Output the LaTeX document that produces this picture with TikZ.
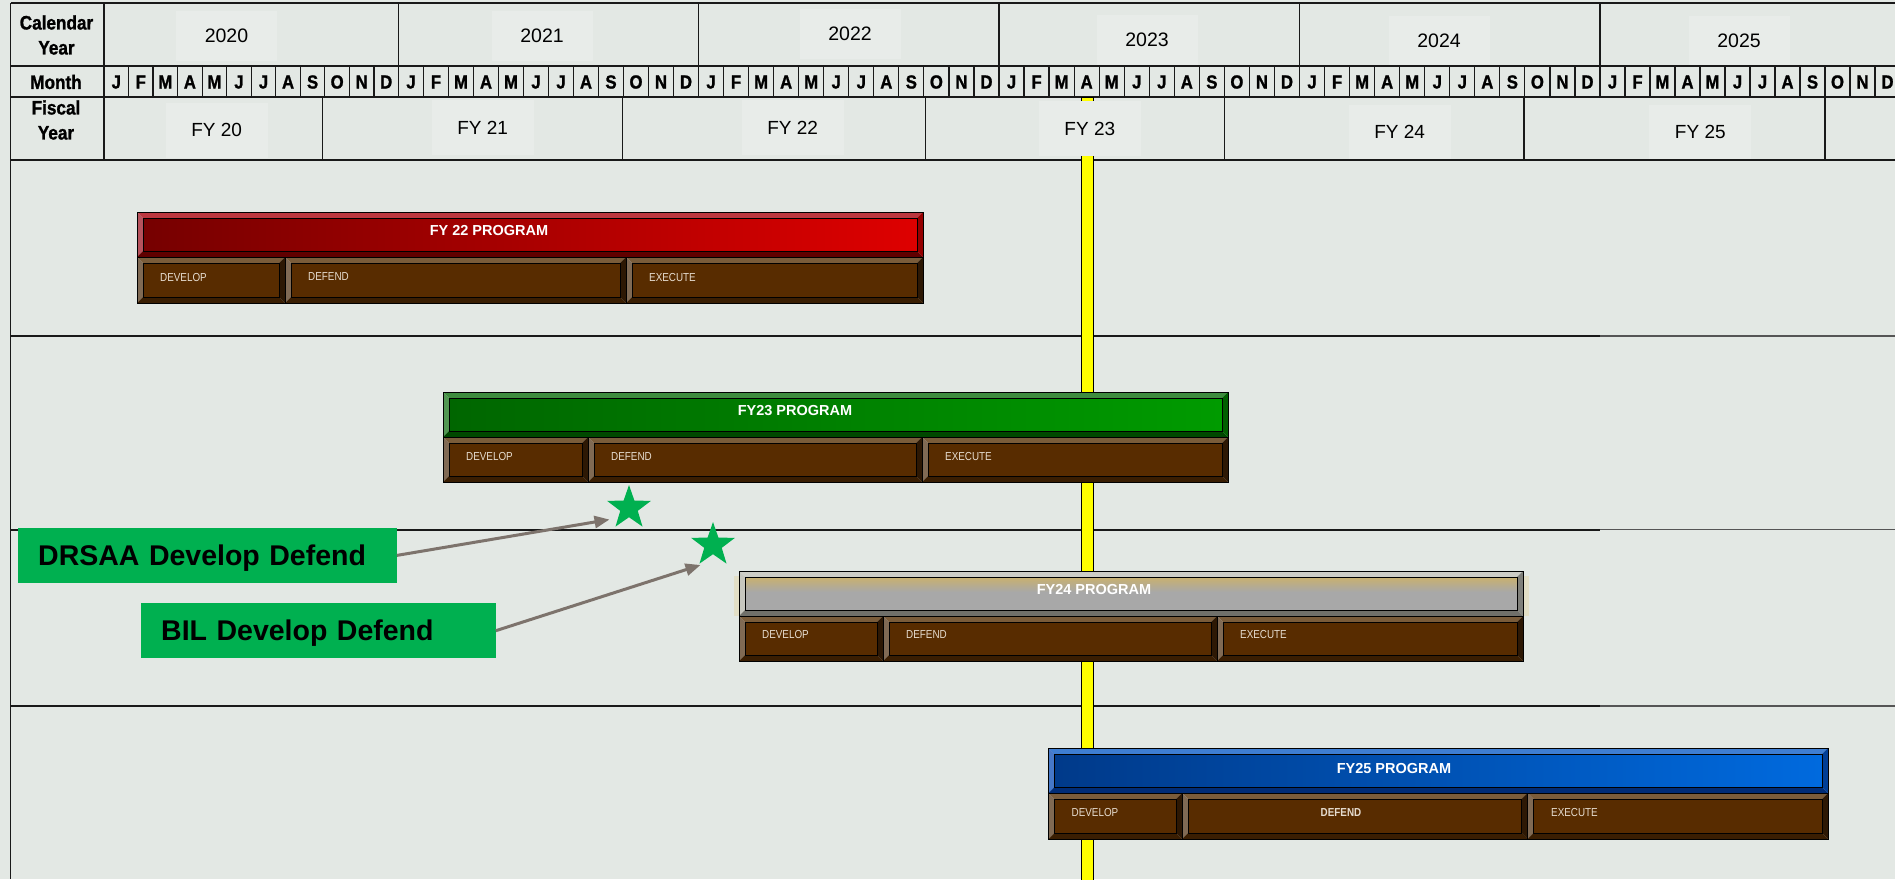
\documentclass[tikz,border=0pt]{standalone}
\usepackage{fontspec}
\setmainfont{Liberation Sans}
\newfontfamily\narrowfont[FakeStretch=0.85]{Liberation Sans}
\newfontfamily\heavyfont[FakeStretch=0.88,FakeBold=1.2]{Liberation Sans}
\usetikzlibrary{arrows.meta,shapes.geometric}

\definecolor{bg}{RGB}{227,232,228}
\definecolor{lblbox}{RGB}{232,236,233}
\definecolor{gline}{RGB}{25,25,25}
\definecolor{gline2}{RGB}{85,85,85}
\definecolor{yel}{RGB}{255,255,0}
\definecolor{calloutg}{RGB}{0,176,80}
\definecolor{starg}{RGB}{0,176,80}
\definecolor{arrc}{RGB}{125,115,108}
\definecolor{segtext}{RGB}{230,220,207}
% brown segments
\definecolor{cBrIn}{RGB}{88,44,0}
\definecolor{cBrT}{RGB}{122,92,58}
\definecolor{cBrL}{RGB}{128,106,84}
\definecolor{cBrB}{RGB}{58,30,2}
\definecolor{cBrR}{RGB}{45,24,4}
% red
\definecolor{cRedA}{RGB}{118,0,0}
\definecolor{cRedZ}{RGB}{222,0,0}
\definecolor{cRedT}{RGB}{188,56,64}
\definecolor{cRedL}{RGB}{182,82,92}
\definecolor{cRedB}{RGB}{96,0,0}
\definecolor{cRedR}{RGB}{150,0,0}
% green
\definecolor{cGrnA}{RGB}{0,102,0}
\definecolor{cGrnZ}{RGB}{0,155,0}
\definecolor{cGrnT}{RGB}{62,140,62}
\definecolor{cGrnL}{RGB}{82,150,82}
\definecolor{cGrnB}{RGB}{0,72,0}
\definecolor{cGrnR}{RGB}{0,95,0}
% grey
\definecolor{cGryIn}{RGB}{168,168,168}
\definecolor{cGryGold}{RGB}{200,176,112}
\definecolor{cGryT}{RGB}{205,205,198}
\definecolor{cGryL}{RGB}{198,198,190}
\definecolor{cGryB}{RGB}{112,112,106}
\definecolor{cGryR}{RGB}{128,128,122}
\definecolor{cGlow}{RGB}{228,205,130}
% blue
\definecolor{cBluA}{RGB}{0,58,138}
\definecolor{cBluZ}{RGB}{0,106,222}
\definecolor{cBluT}{RGB}{62,126,210}
\definecolor{cBluL}{RGB}{70,120,200}
\definecolor{cBluB}{RGB}{0,44,118}
\definecolor{cBluR}{RGB}{0,62,150}

\tikzset{
  brIn/.style={fill=cBrIn}, brT/.style={fill=cBrT}, brL/.style={fill=cBrL},
  brB/.style={fill=cBrB}, brR/.style={fill=cBrR},
  redIn/.style={left color=cRedA, right color=cRedZ}, redT/.style={fill=cRedT},
  redL/.style={fill=cRedL}, redB/.style={fill=cRedB}, redR/.style={fill=cRedR},
  grnIn/.style={left color=cGrnA, right color=cGrnZ}, grnT/.style={fill=cGrnT},
  grnL/.style={fill=cGrnL}, grnB/.style={fill=cGrnB}, grnR/.style={fill=cGrnR},
  gryIn/.style={fill=cGryIn}, gryT/.style={fill=cGryT},
  gryL/.style={fill=cGryL}, gryB/.style={fill=cGryB}, gryR/.style={fill=cGryR},
  bluIn/.style={left color=cBluA, right color=cBluZ}, bluT/.style={fill=cBluT},
  bluL/.style={fill=cBluL}, bluB/.style={fill=cBluB}, bluR/.style={fill=cBluR},
  bevedge/.style={draw=black, line width=1pt},
  hline/.style={draw=gline, line width=2pt},
  vline/.style={draw=gline, line width=1.3pt},
  mline/.style={draw=gline, line width=1.2pt},
  rowline/.style={draw=gline, line width=2pt},
  rowline2/.style={draw=gline2, line width=1.6pt},
  hdrlbl/.style={font=\heavyfont\bfseries\fontsize{19.5}{25}\selectfont, align=center, inner sep=0pt},
  yeartxt/.style={font=\fontsize{19.5}{23}\selectfont, fill=lblbox, minimum width=101pt, minimum height=50pt, inner sep=0pt},
  fytxt/.style={font=\fontsize{19}{23}\selectfont, fill=lblbox, minimum width=102pt, minimum height=55pt, inner sep=0pt},
  monthtxt/.style={font=\heavyfont\bfseries\fontsize{19}{23}\selectfont, inner sep=0pt},
  progtxt/.style={font=\bfseries\fontsize{14.5}{17}\selectfont, text=white, inner sep=0pt},
  segtxt/.style={font=\narrowfont\fontsize{11.6}{14}\selectfont, text=segtext, inner sep=0pt, anchor=west},
  segbold/.style={font=\narrowfont\bfseries\fontsize{11.6}{14}\selectfont, text=segtext, inner sep=0pt},
  callout/.style={fill=calloutg, font=\bfseries\fontsize{28.5}{32}\selectfont, text height=20.4pt, text depth=0pt, inner xsep=20pt, align=left, minimum height=55pt, anchor=north west},
  starnode/.style={star, star points=5, star point ratio=2.5, minimum size=46pt, inner sep=0pt, fill=starg, draw=none},
  arrowc/.style={draw=arrc, line width=3pt, -{Triangle[length=15pt,width=12pt]}},
}

\newcommand\bevbox[5]{%
  \path[#5In] ({#1+6},{#2+6}) rectangle ({#3-6},{#4-6});
  \fill[#5T] (#1,#2) -- (#3,#2) -- ({#3-6},{#2+6}) -- ({#1+6},{#2+6}) -- cycle;
  \fill[#5L] (#1,#2) -- ({#1+6},{#2+6}) -- ({#1+6},{#4-6}) -- (#1,#4) -- cycle;
  \fill[#5B] (#1,#4) -- ({#1+6},{#4-6}) -- ({#3-6},{#4-6}) -- (#3,#4) -- cycle;
  \fill[#5R] (#3,#2) -- (#3,#4) -- ({#3-6},{#4-6}) -- ({#3-6},{#2+6}) -- cycle;
  \draw[bevedge] ({#1+6},{#2+6}) rectangle ({#3-6},{#4-6});
  \draw[bevedge] (#1,#2) rectangle (#3,#4);
}

\begin{document}
\begin{tikzpicture}[x=1pt,y=-1pt]
\useasboundingbox (0,0) rectangle (1895,879);
\fill[bg] (0,0) rectangle (1895,879);

% ---------- header label boxes ----------
\node[yeartxt] (y2020) at (226.5,36) {2020};
\node[yeartxt] (y2021) at (542,36) {2021};
\node[yeartxt] (y2022) at (850,34) {2022};
\node[yeartxt] (y2023) at (1147,40) {2023};
\node[yeartxt] (y2024) at (1439,40.5) {2024};
\node[yeartxt] (y2025) at (1739,40.5) {2025};

\node[fytxt] (fy20) at (216.6,130) {FY 20};
\node[fytxt] (fy21) at (482.6,127.5) {FY 21};
\node[fytxt] (fy22) at (792.6,127.5) {FY 22};
\node[fytxt] (fy24) at (1399.6,132) {FY 24};
\node[fytxt] (fy25) at (1700.3,132) {FY 25};

\node[hdrlbl] (lcal) at (56.5,35) {Calendar\\Year};
\node[hdrlbl] (lmon) at (56,82) {Month};
\node[hdrlbl] (lfis) at (56,120) {Fiscal\\Year};

% ---------- header grid ----------
\draw[hline] (10.5,3.3) -- (1895,3.3);
\draw[hline] (10.5,66) -- (1895,66);
\draw[hline] (10.5,97) -- (1895,97);
\draw[hline] (10.5,160) -- (1895,160);
\draw[vline] (10.5,3.3) -- (10.5,879);
\draw[vline] (104,3.3) -- (104,160);
\foreach \xv in {398.5,698.5,999,1299.5,1600}{
  \draw[vline] (\xv,3.3) -- (\xv,66);
}
\foreach \xv in {322.7,622.4,925.8,1224.3,1524,1825}{
  \draw[vline] (\xv,97) -- (\xv,160);
}
\foreach \ys/\ye [count=\yi] in {104/398.5,398.5/698.5,698.5/999,999/1299.5,1299.5/1600,1600/1900}{
  \foreach \ml [count=\k from 0] in {J,F,M,A,M,J,J,A,S,O,N,D}{
    \pgfmathsetmacro\xa{\ys+\k*(\ye-\ys)/12}
    \pgfmathsetmacro\xc{\ys+(\k+0.5)*(\ye-\ys)/12}
    \draw[mline] (\xa,66) -- (\xa,97);
    \node[monthtxt] (mon-\yi-\k) at (\xc,82) {\ml};
  }
}

% ---------- row separators ----------
\foreach \yv in {336,529.5,706}{
  \draw[rowline] (10.5,\yv) -- (1600,\yv);
  \draw[rowline2] (1600,\yv) -- (1895,\yv);
}

% ---------- today line ----------
\filldraw[fill=yel, draw=black, line width=0.8pt] (1081.3,97) rectangle (1093.3,885);
\node[fytxt] (fy23) at (1089.8,128.5) {FY 23};

% ---------- FY22 program ----------
\bevbox{137}{212}{923}{257}{red}
\bevbox{137}{257}{285}{303}{br}
\bevbox{285}{257}{626}{303}{br}
\bevbox{626}{257}{923}{303}{br}
\node[progtxt] (p22) at (489,231) {FY 22 PROGRAM};
\node[segtxt] (p22dev) at (160,277) {DEVELOP};
\node[segtxt] (p22def) at (308,277) {DEFEND};
\node[segtxt] (p22exe) at (649,277) {EXECUTE};

% ---------- FY23 program ----------
\bevbox{443}{392}{1228}{437}{grn}
\bevbox{443}{437}{588}{482}{br}
\bevbox{588}{437}{922}{482}{br}
\bevbox{922}{437}{1228}{482}{br}
\node[progtxt] (p23) at (795,411) {FY23 PROGRAM};
\node[segtxt] (p23dev) at (466,456) {DEVELOP};
\node[segtxt] (p23def) at (611,456) {DEFEND};
\node[segtxt] (p23exe) at (945,456) {EXECUTE};

% ---------- FY24 program ----------
\fill[cGlow, opacity=0.3] (734,576) rectangle (1529,616);
\bevbox{739}{571}{1523}{616}{gry}
\path[top color=cGryGold, bottom color=cGryIn] (745.5,577.5) rectangle (1516.5,592);
\draw[bevedge] (745,577) rectangle (1517,610);
\node[progtxt] (p24) at (1094,589) {FY24 PROGRAM};
\bevbox{739}{616}{883}{661}{br}
\bevbox{883}{616}{1217}{661}{br}
\bevbox{1217}{616}{1523}{661}{br}
\node[segtxt] (p24dev) at (762,634) {DEVELOP};
\node[segtxt] (p24def) at (906,634) {DEFEND};
\node[segtxt] (p24exe) at (1240,634) {EXECUTE};

% ---------- FY25 program ----------
\bevbox{1048.5}{748}{1828}{793}{blu}
\bevbox{1048.5}{793}{1182}{839}{br}
\bevbox{1182}{793}{1527.6}{839}{br}
\bevbox{1527.6}{793}{1828}{839}{br}
\node[progtxt] (p25) at (1394,768) {FY25 PROGRAM};
\node[segtxt] (p25dev) at (1071.5,812.5) {DEVELOP};
\node[segbold] (p25def) at (1341,812.5) {DEFEND};
\node[segtxt] (p25exe) at (1551,812.5) {EXECUTE};

% ---------- callouts ----------
\node[callout, minimum width=378.5pt, text width=338.5pt] (drsaa) at (18,527.7) {DRSAA Develop Defend};
\node[callout, minimum width=354.4pt, text width=314.4pt] (bil) at (141,603) {BIL Develop Defend};

\node[starnode] (star1) at (629,508) {};
\node[starnode] (star2) at (713,545) {};
\coordinate (tip1) at (609.5,519.5);
\coordinate (tip2) at (700.5,565);

\draw[arrowc] (drsaa.east) -- (tip1);
\draw[arrowc] (bil.east) -- (tip2);
\end{tikzpicture}
\end{document}
